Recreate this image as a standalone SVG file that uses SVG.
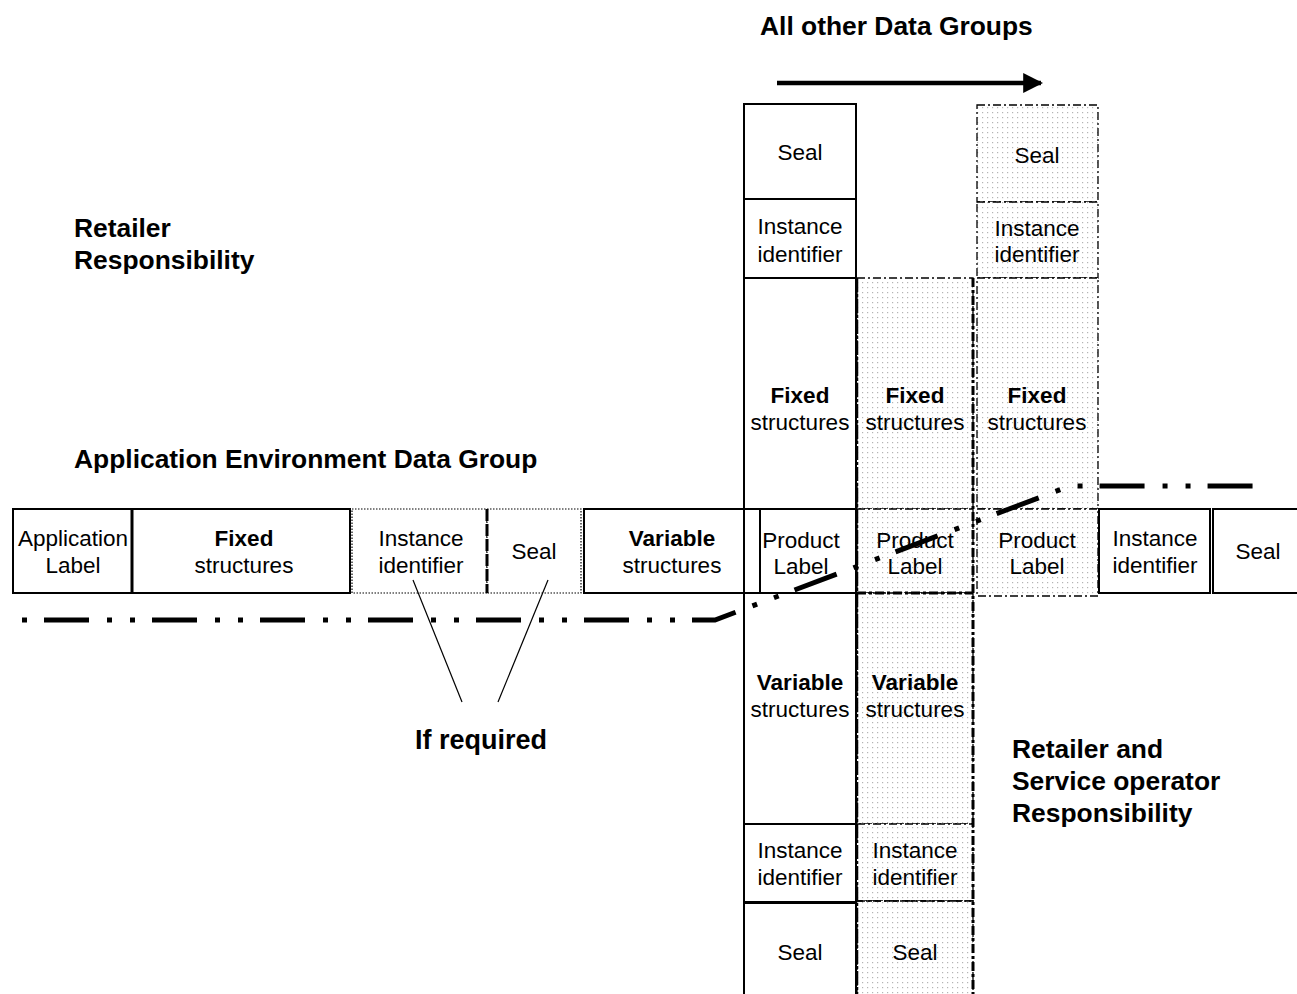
<svg xmlns="http://www.w3.org/2000/svg" width="1297" height="994" viewBox="0 0 1297 994">
  <defs>
    <pattern id="dots" width="5" height="5" patternUnits="userSpaceOnUse">
      <rect width="5" height="5" fill="#fff"/>
      <rect x="2" y="2" width="1.2" height="1.2" fill="#b4b4b4"/>
    </pattern>
    <marker id="arrowHead" viewBox="0 0 10 10" refX="9" refY="5" markerWidth="4.4" markerHeight="4.4" orient="auto" markerUnits="strokeWidth">
      <path d="M0,0 L10,5 L0,10 Z" fill="#000"/>
    </marker>
  </defs>
  <style>
    .box { fill: #fff; stroke: #000; stroke-width: 2; }
    .dbox { fill: none; stroke: #000; stroke-width: 1.3; stroke-dasharray: 8 3 2 3; }
    .dfill { fill: url(#dots); stroke: none; }
    .dotted { fill: #fff; stroke: #000; stroke-width: 1.2; stroke-dasharray: 1.5 1.5; }
    .thickdash { fill: none; stroke: #000; stroke-width: 3; stroke-dasharray: 9 3 3 3; }
    .t { font-family: "Liberation Sans", Arial, sans-serif; font-size: 22.5px; text-anchor: middle; fill: #000; }
    .b { font-weight: bold; }
    .h { font-family: "Liberation Sans", Arial, sans-serif; font-size: 26.4px; font-weight: bold; fill: #000; }
    .thin { fill: none; stroke: #000; stroke-width: 1.2; }
  </style>

  <rect width="1297" height="994" fill="#fff"/>

  <!-- headings -->
  <text class="h" x="760" y="35">All other Data Groups</text>
  <text class="h" x="74" y="237">Retailer</text>
  <text class="h" x="74" y="269">Responsibility</text>
  <text class="h" x="74" y="468">Application Environment Data Group</text>
  <text class="h" x="415" y="749" style="font-size:27px">If required</text>
  <text class="h" x="1012" y="758">Retailer and</text>
  <text class="h" x="1012" y="790">Service operator</text>
  <text class="h" x="1012" y="822">Responsibility</text>

  <!-- Application Environment Data Group row -->
  <g id="app-label">
    <rect class="box" x="13" y="509" width="119" height="84"/>
    <text class="t" x="73" y="546">Application</text>
    <text class="t" x="73" y="573">Label</text>
  </g>
  <g id="app-fixed">
    <rect class="box" x="132" y="509" width="218" height="84"/>
    <line x1="132" y1="509" x2="132" y2="593" stroke="#000" stroke-width="3"/>
    <text class="t b" x="244" y="546">Fixed</text>
    <text class="t" x="244" y="573">structures</text>
  </g>
  <g id="app-instance">
    <rect class="dotted" x="352" y="509" width="135" height="84"/>
    <text class="t" x="421" y="546">Instance</text>
    <text class="t" x="421" y="573">identifier</text>
  </g>
  <g id="app-seal">
    <rect class="dotted" x="487" y="509" width="94" height="84"/>
    <line x1="487" y1="509" x2="487" y2="593" stroke="#000" stroke-width="3" stroke-dasharray="12 3"/>
    <text class="t" x="534" y="559">Seal</text>
  </g>
  <g id="app-variable">
    <rect class="box" x="584" y="509" width="160" height="84"/>
    <text class="t b" x="672" y="546">Variable</text>
    <text class="t" x="672" y="573">structures</text>
  </g>

  <!-- first data group column -->
  <g id="dg1-seal">
    <rect class="box" x="744" y="104" width="112" height="95"/>
    <text class="t" x="800" y="160">Seal</text>
  </g>
  <g id="dg1-instance">
    <rect class="box" x="744" y="199" width="112" height="79"/>
    <text class="t" x="800" y="234">Instance</text>
    <text class="t" x="800" y="262">identifier</text>
  </g>
  <g id="dg1-fixed">
    <rect class="box" x="744" y="278" width="112" height="231"/>
    <text class="t b" x="800" y="403">Fixed</text>
    <text class="t" x="800" y="430">structures</text>
  </g>
  <g id="dg1-product">
    <rect class="box" x="744" y="509" width="112" height="84"/>
    <line x1="760" y1="509" x2="760" y2="593" stroke="#000" stroke-width="2"/>
    <text class="t" x="801" y="548">Product</text>
    <text class="t" x="801" y="574">Label</text>
  </g>
  <g id="dg1-variable">
    <rect class="box" x="744" y="593" width="112" height="231"/>
    <text class="t b" x="800" y="690">Variable</text>
    <text class="t" x="800" y="717">structures</text>
  </g>
  <g id="dg1-instance2">
    <rect class="box" x="744" y="824" width="112" height="78"/>
    <text class="t" x="800" y="858">Instance</text>
    <text class="t" x="800" y="885">identifier</text>
  </g>
  <g id="dg1-seal2">
    <rect class="box" x="744" y="903" width="112" height="100"/>
    <text class="t" x="800" y="960">Seal</text>
  </g>

  <!-- second data group column -->
  <g id="dg2-fixed">
    <rect class="dfill" x="857" y="278" width="116" height="231"/>
    <rect class="dbox" x="857" y="278" width="116" height="231"/>
    <text class="t b" x="915" y="403">Fixed</text>
    <text class="t" x="915" y="430">structures</text>
  </g>
  <g id="dg2-product">
    <rect class="dfill" x="857" y="509" width="116" height="84"/>
    <rect class="dbox" x="857" y="509" width="116" height="84"/>
    <text class="t" x="915" y="548">Product</text>
    <text class="t" x="915" y="574">Label</text>
  </g>
  <g id="dg2-variable">
    <rect class="dfill" x="857" y="593" width="116" height="231"/>
    <rect class="dbox" x="857" y="593" width="116" height="231"/>
    <line class="thickdash" x1="857" y1="593" x2="973" y2="593"/>
    <text class="t b" x="915" y="690">Variable</text>
    <text class="t" x="915" y="717">structures</text>
  </g>
  <g id="dg2-instance">
    <rect class="dfill" x="857" y="824" width="116" height="77"/>
    <rect class="dbox" x="857" y="824" width="116" height="77"/>
    <text class="t" x="915" y="858">Instance</text>
    <text class="t" x="915" y="885">identifier</text>
  </g>
  <g id="dg2-seal">
    <rect class="dfill" x="857" y="901" width="116" height="100"/>
    <rect class="dbox" x="857" y="901" width="116" height="100"/>
    <line x1="857" y1="901" x2="973" y2="901" stroke="#000" stroke-width="1.6" stroke-dasharray="6 3"/>
    <text class="t" x="915" y="960">Seal</text>
  </g>
  <g id="dg2-edges">
    <line x1="857" y1="278" x2="857" y2="994" stroke="#000" stroke-width="2.5" stroke-dasharray="14 2 3 2"/>
    <line class="thickdash" x1="973" y1="278" x2="973" y2="994"/>
  </g>

  <!-- further data group column -->
  <g id="dgn-seal">
    <rect class="dfill" x="977" y="105" width="121" height="97"/>
    <rect class="dbox" x="977" y="105" width="121" height="97"/>
    <text class="t" x="1037" y="163">Seal</text>
  </g>
  <g id="dgn-instance">
    <rect class="dfill" x="977" y="202" width="121" height="76"/>
    <rect class="dbox" x="977" y="202" width="121" height="76"/>
    <text class="t" x="1037" y="236">Instance</text>
    <text class="t" x="1037" y="262">identifier</text>
  </g>
  <g id="dgn-fixed">
    <rect class="dfill" x="975" y="278" width="123" height="231"/>
    <rect class="dbox" x="977" y="278" width="121" height="231"/>
    <text class="t b" x="1037" y="403">Fixed</text>
    <text class="t" x="1037" y="430">structures</text>
  </g>
  <g id="dgn-product">
    <rect class="dfill" x="975" y="509" width="123" height="87"/>
    <rect class="dbox" x="977" y="509" width="121" height="87"/>
    <text class="t" x="1037" y="548">Product</text>
    <text class="t" x="1037" y="574">Label</text>
  </g>

  <!-- remaining row boxes -->
  <g id="row-instance">
    <rect class="box" x="1099" y="509" width="111" height="84"/>
    <text class="t" x="1155" y="546">Instance</text>
    <text class="t" x="1155" y="573">identifier</text>
  </g>
  <g id="row-seal">
    <rect class="box" x="1213" y="509" width="90" height="84"/>
    <text class="t" x="1258" y="559">Seal</text>
  </g>

  <!-- connectors -->
  <g id="connectors">
    <line x1="777" y1="83" x2="1041" y2="83" stroke="#000" stroke-width="4.5" marker-end="url(#arrowHead)"/>
    <line class="thin" x1="413" y1="580" x2="462" y2="702"/>
    <line class="thin" x1="548" y1="580" x2="498" y2="702"/>
    <polyline points="22,620 715,620 1070,486 1256,486" fill="none" stroke="#000" stroke-width="5" stroke-dasharray="5 17 45 18 5 18"/>
  </g>
</svg>
